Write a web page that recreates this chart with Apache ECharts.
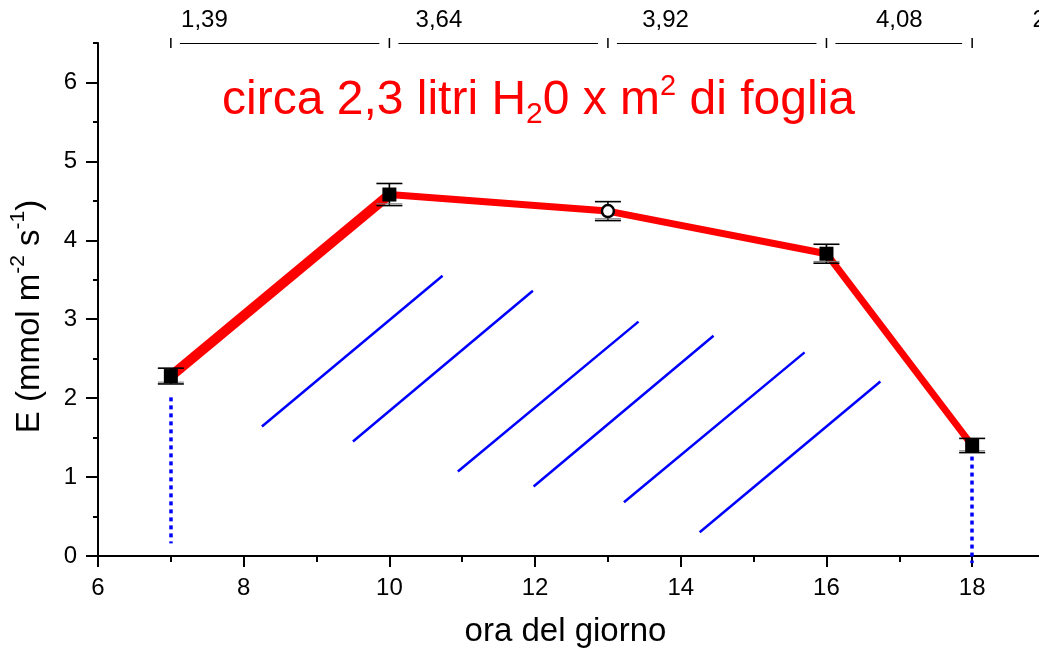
<!DOCTYPE html>
<html><head><meta charset="utf-8">
<script src="https://cdn.jsdelivr.net/npm/echarts@6/dist/echarts.min.js"></script>
<style>html,body{margin:0;padding:0;overflow:hidden;background:#fff;width:1039px;height:656px}#c{width:1045px;height:656px}</style>
</head><body><div id="c"></div><script>
// ---- data ----
const hours = [7, 10, 13, 16, 18];
const transpiration = [2.28, 4.58, 4.37, 3.83, 1.40];
const stdErr = [0.10, 0.14, 0.12, 0.12, 0.09];
const openMarker = [false, false, true, false, false];
const intervalTotals = ['1,39', '3,64', '3,92', '4,08', '2'];
const intervalLabelX = [7.14, 10.36, 13.47, 16.68, 18.83];
const hatchStart = [[8.25, 1.64], [9.50, 1.45], [10.94, 1.07], [11.98, 0.88], [13.22, 0.68], [14.26, 0.30]];
const hatchEnd = [[10.73, 3.55], [11.97, 3.36], [13.42, 2.97], [14.45, 2.79], [15.70, 2.58], [16.74, 2.21]];
const dropX = [7, 18];
const dropTop = [2.01, 1.26];
const dropBottom = [0.16, -0.09];
const xMajorTicks = [6, 8, 10, 12, 14, 16, 18];
const yMajorTicks = [0, 1, 2, 3, 4, 5, 6];
const bracketLevel = 6.5;

const FONT = '"Liberation Sans", Arial, Helvetica, sans-serif';
const chart = echarts.init(document.getElementById('c'), null, {renderer: 'canvas'});

const pairs = hours.map((h, i) => [h, transpiration[i]]);

const option = {
  animation: false,
  backgroundColor: '#fff',
  title: {
    text: '{n|circa 2,3 litri H}{sub|2}{n|0 x m}{sup|2}{n| di foglia}',
    left: 217, top: 67,
    textStyle: {
      color: '#ff0000', fontFamily: FONT, fontWeight: 'normal',
      rich: {
        n: {fontSize: 48, color: '#ff0000', fontFamily: FONT, fontWeight: 'normal', lineHeight: 58},
        sub: {fontSize: 30, color: '#ff0000', fontFamily: FONT, fontWeight: 'normal', lineHeight: 33, verticalAlign: 'bottom'},
        sup: {fontSize: 29, color: '#ff0000', fontFamily: FONT, fontWeight: 'normal', lineHeight: 46, verticalAlign: 'top'}
      }
    }
  },
  grid: {left: 97, top: 43, right: 0, bottom: 100, containLabel: false},
  xAxis: [
    {
      type: 'value', min: 6, max: 19, interval: 1, position: 'bottom',
      axisLine: {show: true, onZero: false, lineStyle: {color: '#000', width: 2}},
      axisTick: {show: true, length: 6, lineStyle: {color: '#000', width: 2}},
      axisLabel: {show: false}, splitLine: {show: false},
      name: 'ora del giorno', nameLocation: 'middle', nameGap: 59,
      nameTextStyle: {fontSize: 33, color: '#000', fontFamily: FONT, padding: [0, 12, 0, 0]}
    },
    {
      type: 'value', min: 6, max: 19, interval: 2, position: 'bottom',
      axisLine: {show: false, onZero: false},
      axisTick: {show: true, length: 11, customValues: xMajorTicks, lineStyle: {color: '#000', width: 2}},
      axisLabel: {show: true, customValues: xMajorTicks, margin: 20, fontSize: 24, color: '#000', fontFamily: FONT},
      splitLine: {show: false}
    }
  ],
  yAxis: [
    {
      type: 'value', min: 0, max: 6.5, interval: 0.5, position: 'left',
      axisLine: {show: true, onZero: false, lineStyle: {color: '#000', width: 2}},
      axisTick: {show: true, length: 5, lineStyle: {color: '#000', width: 2}},
      axisLabel: {show: false}, splitLine: {show: false},
      name: '{n|E (mmol m}{sup|-2}{n| s}{sup|-1}{n|)}',
      nameLocation: 'middle', nameRotate: 90, nameGap: 46,
      nameTextStyle: {
        color: '#000', fontFamily: FONT, padding: [0, 34, 0, 0],
        rich: {
          n: {fontSize: 33, color: '#000', fontFamily: FONT, lineHeight: 44},
          sup: {fontSize: 21, color: '#000', fontFamily: FONT, lineHeight: 24, verticalAlign: 'top'}
        }
      }
    },
    {
      type: 'value', min: 0, max: 6.5, interval: 1, position: 'left',
      axisLine: {show: false, onZero: false},
      axisTick: {show: true, length: 12, customValues: yMajorTicks, lineStyle: {color: '#000', width: 2}},
      axisLabel: {show: true, customValues: yMajorTicks, margin: 21, fontSize: 24, color: '#000', fontFamily: FONT},
      splitLine: {show: false}
    }
  ],
  series: [
    {
      name: 'hatch', type: 'lines', coordinateSystem: 'cartesian2d', xAxisIndex: 0, yAxisIndex: 0,
      z: 2, silent: true,
      data: hatchStart.map((s, i) => ({coords: [s, hatchEnd[i]]})),
      lineStyle: {color: '#0000ff', width: 2.5, opacity: 1}
    },
    {
      name: 'drops', type: 'lines', coordinateSystem: 'cartesian2d', xAxisIndex: 0, yAxisIndex: 0,
      z: 3, silent: true, clip: false,
      data: dropX.map((x, i) => ({coords: [[x, dropTop[i]], [x, dropBottom[i]]]})),
      lineStyle: {color: '#0000ff', width: 3.5, type: [4, 4], opacity: 1}
    },
    {
      name: 'morning', type: 'line', xAxisIndex: 0, yAxisIndex: 0, z: 4,
      data: pairs.slice(0, 2), symbol: 'none',
      lineStyle: {color: '#ff0000', width: 10, cap: 'butt'}
    },
    {
      name: 'afternoon', type: 'line', xAxisIndex: 0, yAxisIndex: 0, z: 4,
      data: pairs.slice(1), symbol: 'none',
      lineStyle: {color: '#ff0000', width: 7, cap: 'butt'}
    },
    {
      name: 'errors', type: 'custom', xAxisIndex: 0, yAxisIndex: 0, z: 5, clip: false,
      data: hours.map((h, i) => [h, transpiration[i], stdErr[i]]),
      renderItem: function (params, api) {
        const x = api.value(0), y = api.value(1), e = api.value(2);
        const top = api.coord([x, y + e]);
        const bot = api.coord([x, y - e]);
        const w = 13;
        const st = {stroke: '#000', lineWidth: 1.6};
        const st2 = {stroke: '#777', lineWidth: 1};
        return {
          type: 'group',
          children: [
            {type: 'line', shape: {x1: top[0], y1: top[1], x2: bot[0], y2: bot[1]}, style: st},
            {type: 'line', shape: {x1: top[0] - w, y1: top[1], x2: top[0] + w, y2: top[1]}, style: st},
            {type: 'line', shape: {x1: bot[0] - w, y1: bot[1], x2: bot[0] + w, y2: bot[1]}, style: st},
            {type: 'line', shape: {x1: bot[0] - w, y1: bot[1] - 1.8, x2: bot[0] + w, y2: bot[1] - 1.8}, style: st2}
          ]
        };
      }
    },
    {
      name: 'E', type: 'scatter', xAxisIndex: 0, yAxisIndex: 0, z: 6,
      data: pairs.map((p, i) => openMarker[i]
        ? {value: p, symbol: 'circle', symbolSize: 12, itemStyle: {color: '#fff', borderColor: '#000', borderWidth: 2.5, opacity: 1}}
        : {value: p, symbol: 'rect', symbolSize: 14, itemStyle: {color: '#000', borderWidth: 0, opacity: 1}})
    },
    {
      name: 'brackets', type: 'custom', xAxisIndex: 0, yAxisIndex: 0, z: 6, clip: false,
      data: hours.map((h, i) => [h, i]),
      renderItem: function (params, api) {
        const i = api.value(1);
        const p = api.coord([api.value(0), bracketLevel]);
        const children = [
          {type: 'line', shape: {x1: p[0], y1: p[1] - 5, x2: p[0], y2: p[1] + 5}, style: {stroke: '#000', lineWidth: 1.5}}
        ];
        if (i + 1 < hours.length) {
          const q = api.coord([hours[i + 1], bracketLevel]);
          children.push({type: 'line', shape: {x1: p[0] + 9, y1: Math.round(p[1]) + 0.5, x2: q[0] - 10, y2: Math.round(q[1]) + 0.5}, style: {stroke: '#000', lineWidth: 1}});
        }
        const t = api.coord([intervalLabelX[i], bracketLevel]);
        children.push({type: 'text', x: t[0], y: t[1] - 23,
          style: {text: intervalTotals[i], fill: '#000', fontSize: 24, fontFamily: FONT, align: 'left', verticalAlign: 'middle'}});
        return {type: 'group', children: children};
      }
    }
  ]
};
chart.setOption(option);
</script></body></html>
